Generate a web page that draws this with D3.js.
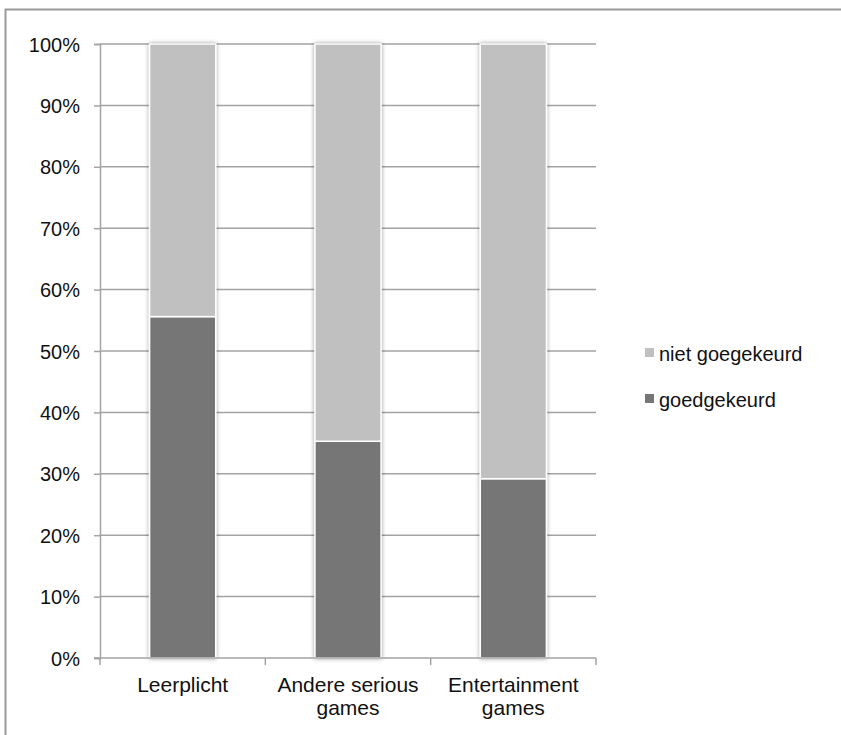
<!DOCTYPE html>
<html>
<head>
<meta charset="utf-8">
<script src="https://cdn.jsdelivr.net/npm/d3@7"></script>
<style>
  html, body { margin: 0; padding: 0; background: #fff; overflow: hidden; }
  svg { display: block; font-family: "Liberation Sans", Arial, Helvetica, sans-serif; }
</style>
</head>
<body>
<svg id="chart" width="841" height="735"></svg>
<script>
// Share of games per category (percent)
const categories = ["Leerplicht", "Andere serious games", "Entertainment games"];
const categoryLines = [["Leerplicht"], ["Andere serious", "games"], ["Entertainment", "games"]];
const goedgekeurd = [55.6, 35.3, 29.2];
const nietGoegekeurd = [44.4, 64.7, 70.8];
const seriesNames = ["niet goegekeurd", "goedgekeurd"];
const seriesColors = ["#c0c0c0", "#767676"];
const yTicks = [0, 10, 20, 30, 40, 50, 60, 70, 80, 90, 100];

const svg = d3.select("#chart");
const FONT = 20;

// outer frame (only its top and left edges fall inside the view)
svg.append("path")
  .attr("d", "M5.5,735 V9.5 H841")
  .attr("fill", "none").attr("stroke", "#9a9a9a").attr("stroke-width", 2);

const margin = { left: 100, right: 245, top: 44, bottom: 77 };
const width = 841 - margin.left - margin.right;
const height = 735 - margin.top - margin.bottom;

const defs = svg.append("defs");
const shadow = defs.append("filter").attr("id", "barShadow")
  .attr("x", "-30%").attr("y", "-5%").attr("width", "160%").attr("height", "110%");
shadow.append("feGaussianBlur").attr("in", "SourceAlpha").attr("stdDeviation", 2.2).attr("result", "blur");
shadow.append("feComponentTransfer").attr("in", "blur").attr("result", "soft")
  .append("feFuncA").attr("type", "linear").attr("slope", 0.4);
const merge = shadow.append("feMerge");
merge.append("feMergeNode").attr("in", "soft");
merge.append("feMergeNode").attr("in", "SourceGraphic");

const g = svg.append("g").attr("transform", `translate(${margin.left},${margin.top})`);

const x = d3.scaleBand().domain(categories).range([0, width]).paddingInner(0.6).paddingOuter(0.3);
const y = d3.scaleLinear().domain([0, 100]).range([height, 0]);

// gridlines
g.append("g").selectAll("line").data(yTicks.filter(t => t > 0)).join("line")
  .attr("x1", 0).attr("x2", width)
  .attr("y1", d => y(d)).attr("y2", d => y(d))
  .attr("stroke", "#a3a3a3").attr("stroke-width", 1.5);

// y axis
const yAxis = g.append("g")
  .call(d3.axisLeft(y).tickValues(yTicks).tickFormat(d => d + "%").tickSize(6).tickPadding(14));
yAxis.attr("font-family", null).attr("font-size", null);
yAxis.select(".domain").attr("stroke", "#a3a3a3").attr("stroke-width", 1.5);
yAxis.selectAll(".tick line").attr("stroke", "#a3a3a3").attr("stroke-width", 1.5);
yAxis.selectAll(".tick text").attr("font-size", FONT).attr("fill", "#111").attr("dy", "0.35em");

// stacked bars
const rows = categories.map((c, i) => ({ cat: c, goedgekeurd: goedgekeurd[i], niet: nietGoegekeurd[i] }));
const stack = d3.stack().keys(["goedgekeurd", "niet"]);
const layers = stack(rows);
const layerColor = { goedgekeurd: seriesColors[1], niet: seriesColors[0] };

const barsG = g.append("g").attr("filter", "url(#barShadow)");
layers.forEach(layer => {
  barsG.append("g").selectAll("rect").data(layer).join("rect")
    .attr("x", d => x(d.data.cat))
    .attr("width", x.bandwidth())
    .attr("y", d => y(d[1]))
    .attr("height", d => y(d[0]) - y(d[1]))
    .attr("fill", layerColor[layer.key])
    .attr("stroke", "#fff").attr("stroke-width", 1.5);
});

// x axis with boundary ticks between categories
const xAxisG = g.append("g").attr("transform", `translate(0,${height})`);
xAxisG.append("line").attr("x1", -6).attr("x2", width)
  .attr("stroke", "#a3a3a3").attr("stroke-width", 1.5);
const step = width / categories.length;
const boundaries = d3.range(categories.length + 1).map(i => i * step);
xAxisG.selectAll(".bt").data(boundaries).join("line")
  .attr("x1", d => d).attr("x2", d => d).attr("y1", 0).attr("y2", 7)
  .attr("stroke", "#a3a3a3").attr("stroke-width", 1.5);

const labels = xAxisG.selectAll(".cl").data(categories).join("text")
  .attr("text-anchor", "middle")
  .attr("font-size", 21).attr("fill", "#111")
  .attr("transform", d => `translate(${x(d) + x.bandwidth() / 2},0)`);
labels.each(function(d, i) {
  const t = d3.select(this);
  categoryLines[i].forEach((line, j) => {
    t.append("tspan").attr("x", 0).attr("y", 34 + j * 23).text(line);
  });
});

// legend
const legend = svg.append("g").attr("transform", "translate(645,361)");
seriesNames.forEach((name, i) => {
  const row = legend.append("g").attr("transform", `translate(0,${i * 46})`);
  row.append("rect").attr("x", 0).attr("y", -13).attr("width", 9).attr("height", 9)
    .attr("fill", seriesColors[i]);
  row.append("text").attr("x", 14).attr("y", 0).attr("font-size", FONT).attr("fill", "#111").text(name);
});
</script>
</body>
</html>
